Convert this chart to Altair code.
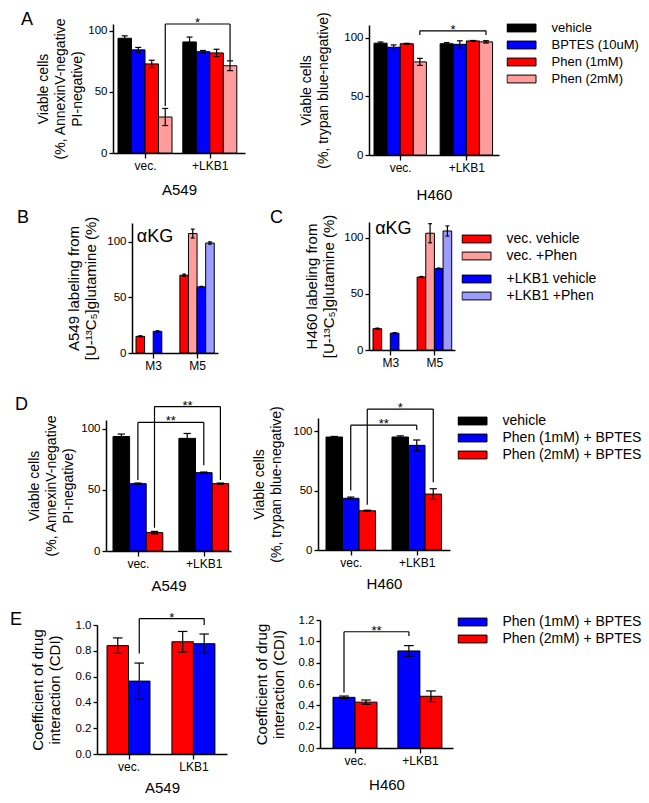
import altair as alt
import pandas as pd

FONT = "Liberation Sans"
W, H = 633, 787          # drawing area (page 649x803 minus 8px margins)
M = 8                    # page margin: reference pixel -> chart pixel

BLACK, BLUE, RED, PINK, LBLUE = "#000000", "#0000ff", "#ff0000", "#ff9c9c", "#9c9cff"

# ---------------- data ----------------
A_groups = ["vec.", "+LKB1"]
A_series = ["vehicle", "BPTES (10uM)", "Phen (1mM)", "Phen (2mM)"]
A_colors = [BLACK, BLUE, RED, PINK]
A549_A_mean = [[94, 91], [84.5, 83], [73, 82], [29.5, 71.5]]
A549_A_err = [[2, 4], [2, 1], [3, 3], [7, 4]]
H460_A_mean = [[95.5, 95], [92, 94.5], [95, 97.4], [79.5, 96.6]]
H460_A_err = [[1, 1], [2, 3], [0.4, 0.4], [3, 1]]

BC_groups = ["M3", "M5"]
BC_series = ["vec. vehicle", "vec. +Phen", "+LKB1 vehicle", "+LKB1 +Phen"]
BC_colors = [RED, PINK, BLUE, LBLUE]
B_mean = [[15, 70], [None, 107.5], [19.5, 59.5], [None, 99]]
B_err = [[0.5, 1], [None, 4], [0.5, 0.5], [None, 1]]
C_mean = [[19, 65], [None, 104], [15, 72.5], [None, 106]]
C_err = [[0.5, 0.5], [None, 8.5], [0.5, 0.5], [None, 4.5]]

D_groups = ["vec.", "+LKB1"]
D_series = ["vehicle", "Phen (1mM) + BPTES", "Phen (2mM) + BPTES"]
D_colors = [BLACK, BLUE, RED]
A549_D_mean = [[93.5, 92], [55, 64], [15, 55]]
A549_D_err = [[2, 4], [0.5, 0.5], [1, 0.5]]
H460_D_mean = [[95, 95], [43.5, 88], [33, 47]]
H460_D_err = [[0.5, 1], [1, 4.5], [0.5, 4.5]]

E_groups_A549 = ["vec.", "LKB1"]
E_groups_H460 = ["vec.", "+LKB1"]
E_series_A549 = ["Phen (2mM) + BPTES", "Phen (1mM) + BPTES"]
E_colors_A549 = [RED, BLUE]
A549_E_mean = [[0.84, 0.87], [0.565, 0.855]]
A549_E_err = [[0.06, 0.08], [0.14, 0.075]]
E_series_H460 = ["Phen (1mM) + BPTES", "Phen (2mM) + BPTES"]
E_colors_H460 = [BLUE, RED]
H460_E_mean = [[0.475, 0.91], [0.43, 0.485]]
H460_E_err = [[0.012, 0.05], [0.02, 0.05]]

# significance brackets: (series index, bracket level, left leg end, right leg end, label)
A549_A_sig = [(3, 105.7, 38.5, 76, "*")]
H460_A_sig = [(3, 106, 102.5, 102.5, "*")]
A549_D_sig = [(2, 118, 19, 58, "**"), (1, 105, 58, 70, "**")]
H460_D_sig = [(2, 118.5, 38, 57, "*"), (1, 105, 50, 101, "**")]
A549_E_sig = [(1, 1.05, 0.78, 1.0, "*")]
H460_E_sig = [(0, 1.09, 0.52, 1.05, "**")]

# ---------------- layout (reference pixel geometry of each panel) ----------------
GEOM = {
    "A549_A": dict(axL=113, axR=245, bar0=118, barw=13.5, gap=0.8, y0=153, ytop=24, ymax=105.7),
    "H460_A": dict(axL=369, axR=499, bar0=374, barw=13.1, gap=1.05, y0=155, ytop=25, ymax=111),
    "B": dict(axL=132, axR=218, bar0=136, barw=8.6, gap=1.1, y0=353, ytop=223, ymax=117),
    "C": dict(axL=369, axR=455, bar0=373, barw=8.65, gap=1.1, y0=350, ytop=222, ymax=114),
    "A549_D": dict(axL=106, axR=231, bar0=113, barw=16.6, gap=0.97, y0=551, ytop=420, ymax=107),
    "H460_D": dict(axL=318, axR=450, bar0=326, barw=16.5, gap=1.0, y0=550, ytop=418, ymax=111),
    "A549_E": dict(axL=97, axR=227, bar0=107, barw=21.5, gap=1.02, y0=754, ytop=625, ymax=1.0),
    "H460_E": dict(axL=320, axR=453, bar0=333, barw=22, gap=0.95, y0=748, ytop=620, ymax=1.2),
}
CAP = 0.22
RECT = "M-1,-0.27H1V0.27H-1Z"


def make_legend(x, y, rowh, fs=14):
    return alt.Legend(orient="none", legendX=x - M - 0.5, legendY=y - M - rowh / 2,
                      title=None, symbolType=RECT, symbolSize=841,
                      symbolStrokeColor="black", symbolStrokeWidth=1,
                      clipHeight=rowh, rowPadding=0, padding=0, labelOffset=15,
                      labelFont=FONT, labelFontSize=fs, labelColor="black", labelLimit=400)


def build_panel(key, groups, series, colors, means, errs, yticks, ytitle, xtitle=None,
                sig=(), bar_sets=None, note=None, yfmt=None, ytitle_size=15, ytitle_pad=4,
                xtitle_pad=8):
    g = GEOM[key]
    nS = len(series)
    step = nS + g["gap"]
    rows = []
    for si, s in enumerate(series):
        for gi, grp in enumerate(groups):
            m = means[si][gi]
            if m is None:
                continue
            e = errs[si][gi]
            left = gi * step + si
            rows.append(dict(series=s, group=grp, left=left, right=left + 1,
                             center=left + 0.5, cl=left + 0.5 - CAP, cr=left + 0.5 + CAP,
                             mean=m, base=0, lo=m - e, hi=m + e))
    df = pd.DataFrame(rows)

    xs = alt.Scale(domain=[(g["axL"] - g["bar0"]) / g["barw"], (g["axR"] - g["bar0"]) / g["barw"]],
                   range=[g["axL"] - M, g["axR"] - M], nice=False, zero=False)
    ys = alt.Scale(domain=[0, g["ymax"]], range=[g["y0"] - M, g["ytop"] - M], nice=False, zero=False)
    centers = [gi * step + nS / 2 for gi in range(len(groups))]
    expr = f"datum.value < {(centers[0] + centers[1]) / 2} ? '{groups[0]}' : '{groups[1]}'"
    xkw = dict(orient="bottom", offset=g["y0"] - M - H, values=centers, labelExpr=expr,
               domain=True, ticks=True, tickSize=5, labelFontSize=12, labelFlush=False,
               labelPadding=2)
    if xtitle:
        xkw.update(title=xtitle, titlePadding=xtitle_pad, titleFontSize=15)
    else:
        xkw["title"] = None
    xax = alt.Axis(**xkw)
    ykw = dict(orient="left", offset=-(g["axL"] - M), values=yticks, title=ytitle,
               domain=True, ticks=True,
               titleFontSize=ytitle_size, titleLineHeight=17, titlePadding=ytitle_pad)
    if yfmt:
        ykw["format"] = yfmt
    yax = alt.Axis(**ykw)

    def X(f):
        return alt.X(f"{f}:Q", scale=xs, axis=xax)

    def Y(f):
        return alt.Y(f"{f}:Q", scale=ys, axis=yax)

    if bar_sets is None:
        bar_sets = [(series, colors, None)]
    layers = []
    for ser_sub, col_sub, leg in bar_sets:
        sub = df[df.series.isin(ser_sub)]
        color = alt.Color("series:N", scale=alt.Scale(domain=ser_sub, range=col_sub),
                          legend=leg)
        layers.append(alt.Chart(sub).mark_bar(stroke="black", strokeWidth=1).encode(
            x=X("left"), x2=alt.X2("right:Q"), y=Y("mean"), y2=alt.Y2("base:Q"), color=color))

    rule = dict(color="black", strokeWidth=1.2)
    layers.append(alt.Chart(df).mark_rule(**rule).encode(x=X("center"), y=Y("lo"), y2=alt.Y2("hi:Q")))
    layers.append(alt.Chart(df).mark_rule(**rule).encode(x=X("cl"), x2=alt.X2("cr:Q"), y=Y("hi")))
    layers.append(alt.Chart(df).mark_rule(**rule).encode(x=X("cl"), x2=alt.X2("cr:Q"), y=Y("lo")))

    if sig:
        brows = []
        for si, top, e1, e2, lab in sig:
            x1 = si + 0.5
            x2 = step + si + 0.5
            brows.append(dict(x1=x1, x2=x2, mid=(x1 + x2) / 2, top=top, e1=e1, e2=e2, lab=lab))
        bdf = pd.DataFrame(brows)
        layers.append(alt.Chart(bdf).mark_rule(**rule).encode(x=X("x1"), x2=alt.X2("x2:Q"), y=Y("top")))
        layers.append(alt.Chart(bdf).mark_rule(**rule).encode(x=X("x1"), y=Y("e1"), y2=alt.Y2("top:Q")))
        layers.append(alt.Chart(bdf).mark_rule(**rule).encode(x=X("x2"), y=Y("e2"), y2=alt.Y2("top:Q")))
        layers.append(alt.Chart(bdf).mark_text(font=FONT, fontSize=13, baseline="alphabetic", dy=3,
                                               color="black").encode(
            x=X("mid"), y=Y("top"), text="lab:N"))

    if note:
        txt, nx, ny = note
        layers.append(alt.Chart(pd.DataFrame({"t": [txt]})).mark_text(
            font=FONT, fontSize=18, align="left", baseline="middle", color="black").encode(
            x=alt.XDatum(nx, scale=xs, axis=xax), y=alt.YDatum(ny, scale=ys, axis=yax), text="t:N"))

    p = alt.layer(*layers)
    if len(bar_sets) > 1:
        p = p.resolve_scale(color="independent")
    return p


VIAB_AV = ["Viable cells", "(%, AnnexinV-negative", "PI-negative)"]
VIAB_TB = ["Viable cells", "(%, trypan blue-negative)"]
CDI = ["Coefficient of drug", "interaction (CDI)"]

panels = [
    build_panel("A549_A", A_groups, A_series, A_colors, A549_A_mean, A549_A_err, [0, 50, 100],
                VIAB_AV, "A549", sig=A549_A_sig, ytitle_size=14, ytitle_pad=3, xtitle_pad=11),
    build_panel("H460_A", A_groups, A_series, A_colors, H460_A_mean, H460_A_err, [0, 50, 100],
                VIAB_TB, "H460", sig=H460_A_sig,
                bar_sets=[(A_series, A_colors, make_legend(507, 28, 16.7, fs=13))],
                ytitle_size=14, ytitle_pad=13, xtitle_pad=14),
    build_panel("B", BC_groups, BC_series, BC_colors, B_mean, B_err, [0, 50, 100],
                ["A549 labeling from", "[U-\u00b9\u00b3C\u2085]glutamine  (%)"],
                note=("\u03b1KG", 0.1, 104.5), ytitle_pad=8),
    build_panel("C", BC_groups, BC_series, BC_colors, C_mean, C_err, [0, 50, 100],
                ["H460 labeling from", "[U-\u00b9\u00b3C\u2085]glutamine  (%)"],
                note=("\u03b1KG", 0.25, 108), ytitle_pad=7,
                bar_sets=[(BC_series[:2], BC_colors[:2], make_legend(462, 239, 17)),
                          (BC_series[2:], BC_colors[2:], make_legend(462, 279, 17))]),
    build_panel("A549_D", D_groups, D_series, D_colors, A549_D_mean, A549_D_err, [0, 50, 100],
                VIAB_AV, "A549", sig=A549_D_sig, ytitle_size=14, ytitle_pad=5, xtitle_pad=9),
    build_panel("H460_D", D_groups, D_series, D_colors, H460_D_mean, H460_D_err, [0, 50, 100],
                VIAB_TB, "H460", sig=H460_D_sig,
                bar_sets=[(D_series, D_colors, make_legend(458, 421, 16.5))],
                ytitle_size=14, ytitle_pad=9, xtitle_pad=8),
    build_panel("A549_E", E_groups_A549, E_series_A549, E_colors_A549, A549_E_mean, A549_E_err,
                [0, 0.2, 0.4, 0.6, 0.8, 1.0], CDI, "A549", sig=A549_E_sig, yfmt=".1f",
                ytitle_pad=13, xtitle_pad=8),
    build_panel("H460_E", E_groups_H460, E_series_H460, E_colors_H460, H460_E_mean, H460_E_err,
                [0, 0.2, 0.4, 0.6, 0.8, 1.0, 1.2], CDI, "H460", sig=H460_E_sig, yfmt=".1f",
                bar_sets=[(E_series_H460, E_colors_H460, make_legend(458, 622, 17))],
                ytitle_pad=12, xtitle_pad=11),
]

# panel letters (annotation positions in reference pixels)
LETTERS = ["A", "B", "C", "D", "E"]
LETTER_POS = [(21, 25), (17, 223), (270, 223), (15, 410), (10, 625)]
letter_layers = [
    alt.Chart(pd.DataFrame({"t": [L]})).mark_text(
        font=FONT, fontSize=18, align="left", baseline="alphabetic", color="black",
        x=px - M, y=py - M).encode(text="t:N")
    for L, (px, py) in zip(LETTERS, LETTER_POS)
]

chart = alt.layer(*panels, *letter_layers).resolve_scale(
    x="independent", y="independent", color="independent"
).properties(
    width=W, height=H, padding=0, autosize=alt.AutoSizeParams(type="none")
).configure_view(stroke=None).configure_axis(
    domainColor="black", domainWidth=1.5, tickColor="black", tickWidth=1.3, tickSize=4,
    labelFont=FONT, labelFontSize=11.5, labelColor="black", labelPadding=2,
    titleFont=FONT, titleFontWeight="normal", titleColor="black", grid=False
)

chart.save("out.html", embed_options={"renderer": "svg", "actions": False})
